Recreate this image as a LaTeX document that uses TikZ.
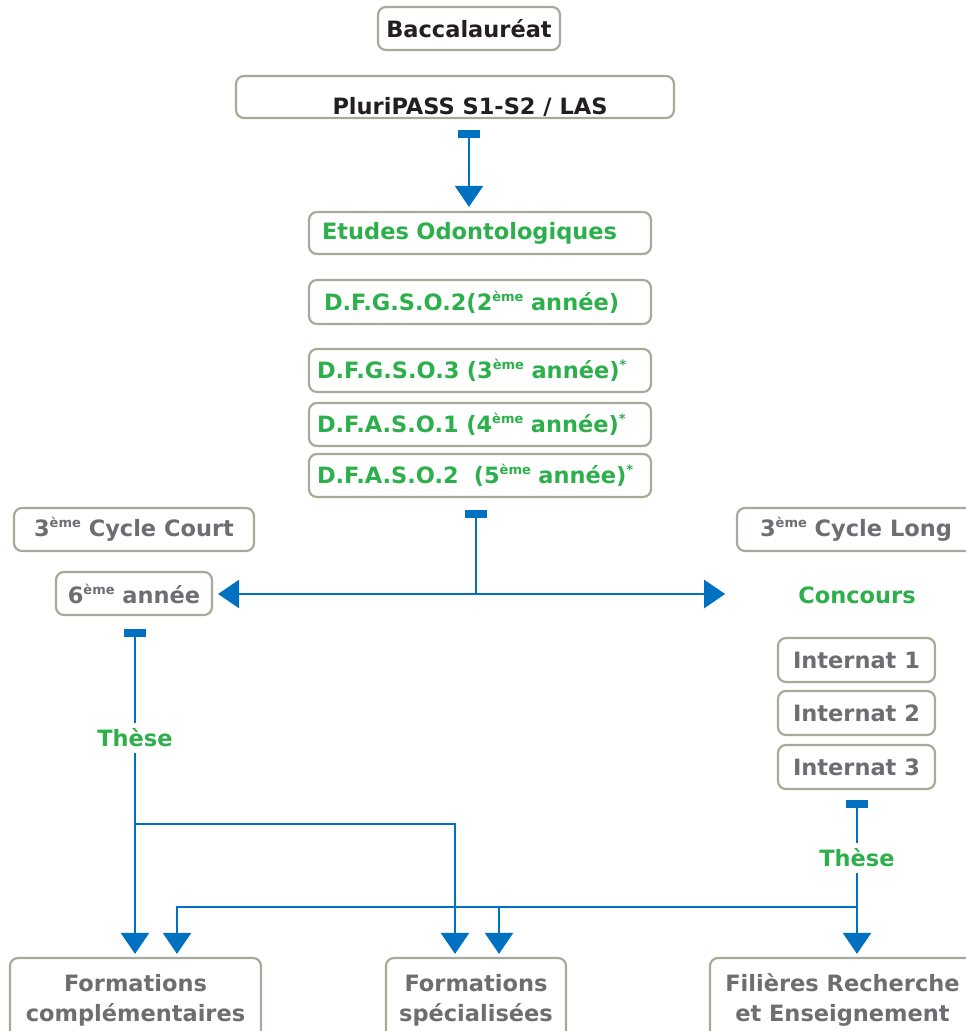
\documentclass[tikz,border=0pt]{standalone}
\usepackage{fontspec}
\setmainfont{DejaVu Sans}
\usetikzlibrary{arrows.meta,positioning}

\definecolor{flowblue}{HTML}{0070C0}
\definecolor{stagegreen}{HTML}{2DB04B}
\definecolor{boxgray}{HTML}{A6AA9B}
\definecolor{textgray}{HTML}{6D6E71}
\definecolor{textblack}{HTML}{231F20}

\newcommand{\eme}{\raisebox{9pt}{\fontsize{13}{13}\selectfont ème}}
\newcommand{\etoile}{\raisebox{9pt}{\fontsize{13}{13}\selectfont *}}

\tikzset{
  box/.style={draw=boxgray, line width=2.2pt, rounded corners=8pt, fill=white,
    font=\bfseries\fontsize{22.5}{30}\selectfont, minimum height=43pt, inner sep=0pt},
  stage/.style={box, text=stagegreen, text width=326pt, align=left, inner xsep=8pt},
  cycle/.style={box, text=textgray},
  note/.style={text=stagegreen, font=\bfseries\fontsize{22.5}{30}\selectfont, inner sep=6pt},
  wire/.style={flowblue, line width=2.5pt},
  flow/.style={wire, {Rectangle[width=22pt,length=8pt]}-{Triangle[width=28pt,length=21pt]}},
  feed/.style={wire, {Rectangle[width=22pt,length=8pt]}-},
  lead/.style={wire, -{Triangle[width=28pt,length=21pt]}}
}

\begin{document}
\begin{tikzpicture}[x=1pt,y=-1pt]
\useasboundingbox (0,0) rectangle (966,1031);

% first year
\node[box, text=textblack, minimum width=182pt] (bac) at (469,28.5) {Baccalauréat};
\node[box, text=textblack, minimum width=438pt, minimum height=42pt] (pass) at (455,97)
  {\hspace*{30pt}\raisebox{-17pt}[0pt][0pt]{PluriPASS S1-S2 / LAS}};

% studies
\node[stage, minimum height=42pt] (etudes) at (480,233) {\hspace*{5pt}Etudes Odontologiques};
\node[stage, minimum height=44pt] (dfgso2) at (480,302) {\hspace*{7pt}D.F.G.S.O.2(2\eme{} année)};
\node[stage] (dfgso3) at (480,370.5) {D.F.G.S.O.3 (3\eme{} année)\etoile};
\node[stage] (dfaso1) at (480,424.5) {D.F.A.S.O.1 (4\eme{} année)\etoile};
\node[stage] (dfaso2) at (480,475.5) {D.F.A.S.O.2 \ (5\eme{} année)\etoile};

% third cycle
\node[cycle, minimum width=240pt] (court) at (134,529.5) {3\eme{} Cycle Court};
\node[cycle, minimum width=156pt] (annee) at (134,593.5) {6\eme{} année};
\node[cycle, minimum width=238pt] (long) at (856,529.5) {3\eme{} Cycle Long};
\node[note, inner sep=0pt] (concours) at (857,595) {Concours};
\node[cycle, minimum width=157pt, minimum height=44pt] (int1) at (856.5,660) {Internat 1};
\node[cycle, minimum width=157pt, minimum height=44pt] (int2) at (856.5,713) {Internat 2};
\node[cycle, minimum width=157pt, minimum height=44pt] (int3) at (856.5,767) {Internat 3};
\node[note] (these1) at (135,738) {Thèse};
\node[note] (these2) at (857,858) {Thèse};

% outcomes
\node[cycle, align=center, minimum width=251pt, minimum height=84pt] (fcomp) at (135.5,1000)
  {Formations\\complémentaires};
\node[cycle, align=center, minimum width=180pt, minimum height=84pt] (fspec) at (476,1000)
  {Formations\\spécialisées};
\node[cycle, align=center, minimum width=265pt, minimum height=84pt] (frech) at (842.5,1000)
  {Filières Recherche\\et Enseignement};

% connectors
\draw[flow, shorten <=11pt, shorten >=4pt] (pass.south -| bac) -- (etudes.north -| bac);

\coordinate (split) at (476,594);
\draw[feed, shorten <=12pt] (dfaso2.south -| split) -- (split);
\draw[lead, shorten >=5pt] (split) -- (split -| annee.east);
\draw[lead, shorten >=73pt] (split) -- (split -| concours.west);

\draw[feed, shorten <=13pt] (annee.south -| these1) -- (these1.north);
\draw[lead, shorten >=3pt] (these1.south) -- (fcomp.north -| these1);
\coordinate (brL) at (135,824);
\coordinate (specL) at (455,824);
\draw[lead, shorten >=3pt] (brL) -- (specL) -- (fspec.north -| specL);

\draw[feed, shorten <=10pt] (int3.south -| these2) -- (these2.north);
\draw[lead, shorten >=3pt] (these2.south) -- (frech.north -| these2);
\coordinate (brR) at (857,907);
\coordinate (compR) at (177,907);
\coordinate (specR) at (499,907);
\draw[lead, shorten >=3pt] (brR) -- (compR) -- (fcomp.north -| compR);
\draw[lead, shorten >=3pt] (specR) -- (fspec.north -| specR);
\end{tikzpicture}
\end{document}
